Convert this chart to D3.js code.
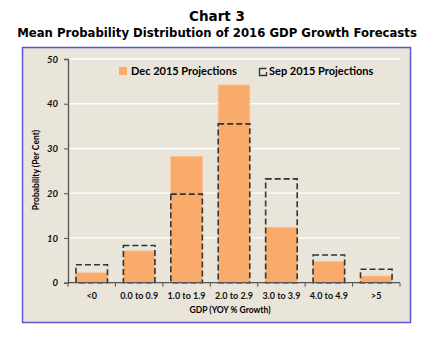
<!DOCTYPE html>
<html>
<head>
<meta charset="utf-8">
<script src="https://cdn.jsdelivr.net/npm/d3@7"></script>
<style>
  body { margin: 0; background: #fff; }
  text { font-family: Lato, "Open Sans", sans-serif; }
</style>
</head>
<body>
<script>
var categories = ["<0", "0.0 to 0.9", "1.0 to 1.9", "2.0 to 2.9", "3.0 to 3.9", "4.0 to 4.9", ">5"];
var dec2015 = [2.2, 7.1, 28.2, 44.2, 12.4, 4.7, 1.5];
var sep2015 = [4.0, 8.3, 19.8, 35.5, 23.2, 6.2, 3.0];
var yTicks = [0, 10, 20, 30, 40, 50];

var svgWidth = 435, svgHeight = 341;
var margin = {top: 59, left: 68, bottom: 58, right: 35};
var width = svgWidth - margin.left - margin.right,
    height = 282.7 - margin.top;

var svg = d3.select('body').append('svg')
  .attr('width', svgWidth)
  .attr('height', svgHeight);

// titles
svg.append('text')
  .attr('x', 217).attr('y', 21)
  .attr('text-anchor', 'middle')
  .style('font-family', '"DejaVu Sans", Verdana, sans-serif')
  .style('font-weight', 'bold').style('font-size', '13.5px')
  .text('Chart 3');
var sub = svg.append('text')
  .attr('x', 217).attr('y', 37)
  .attr('text-anchor', 'middle')
  .style('font-family', '"DejaVu Sans", Verdana, sans-serif')
  .style('font-weight', 'bold').style('font-size', '12px')
  .text('Mean Probability Distribution of 2016 GDP Growth Forecasts');
// size the subtitle to span ~400px
var w = sub.node().getComputedTextLength();
sub.style('font-size', (12 * 400 / w) + 'px');

// chart area frame
svg.append('rect')
  .attr('x', 22.5).attr('y', 47.5)
  .attr('width', 388).attr('height', 275)
  .attr('fill', '#e9e5da')
  .attr('stroke', '#5a5ad0')
  .attr('stroke-width', 1.5);

var g = svg.append('g')
  .attr('transform', `translate(${margin.left},${margin.top})`);

var xScale = d3.scaleBand().domain(categories).range([0, width]).paddingInner(0.335).paddingOuter(0.1675);
var yScale = d3.scaleLinear().domain([0, 50]).range([height, 0]);

// gridlines
g.selectAll('.grid').data(yTicks.slice(1)).enter()
  .append('line')
  .attr('class', 'grid')
  .attr('x1', 0).attr('x2', width)
  .attr('y1', d => yScale(d)).attr('y2', d => yScale(d))
  .attr('stroke', '#ffffff').attr('stroke-width', 1.3);

// Dec 2015 bars
g.selectAll('.dec').data(dec2015).enter()
  .append('rect')
  .attr('class', 'dec')
  .attr('x', (d, i) => xScale(categories[i]))
  .attr('y', d => yScale(d))
  .attr('width', xScale.bandwidth())
  .attr('height', d => height - yScale(d))
  .attr('fill', '#f9ab6b')
  .attr('stroke', '#fbc08f').attr('stroke-width', 0.8);

// Sep 2015 dashed outlines
g.selectAll('.sep').data(sep2015).enter()
  .append('rect')
  .attr('class', 'sep')
  .attr('x', (d, i) => xScale(categories[i]))
  .attr('y', d => yScale(d))
  .attr('width', xScale.bandwidth())
  .attr('height', d => height - yScale(d))
  .attr('fill', 'none')
  .attr('stroke', '#333333').attr('stroke-width', 1.6)
  .attr('stroke-dasharray', '6,3');

// y axis
var yAxis = d3.axisLeft(yScale).tickValues(yTicks).tickSize(4).tickPadding(6);
var ya = g.append('g').call(yAxis);
ya.select('.domain').attr('stroke', '#555').attr('stroke-width', 1.3);
ya.selectAll('.tick line').attr('stroke', '#555');
ya.selectAll('.tick text')
  .style('font-size', '9.5px').style('font-weight', 'bold').style('font-style', 'italic')
  .attr('fill', '#111');

// x axis: ticks at band boundaries
var xLine = g.append('g').attr('transform', `translate(0,${height})`);
xLine.append('line')
  .attr('x1', 0).attr('x2', width)
  .attr('stroke', '#555').attr('stroke-width', 1.3);
var step = xScale.step();
xLine.selectAll('.xt').data(d3.range(categories.length + 1)).enter()
  .append('line')
  .attr('x1', d => d * step).attr('x2', d => d * step)
  .attr('y1', 0).attr('y2', 4)
  .attr('stroke', '#555');
xLine.selectAll('.xl').data(categories).enter()
  .append('text')
  .attr('x', d => xScale(d) + xScale.bandwidth() / 2)
  .attr('y', 16)
  .attr('text-anchor', 'middle')
  .style('font-size', '9px').style('font-weight', 'bold')
  .attr('fill', '#111')
  .text(d => d);

// axis titles
svg.append('text')
  .attr('x', 230).attr('y', 313)
  .attr('text-anchor', 'middle')
  .style('font-size', '8.5px').style('font-weight', 'bold')
  .text('GDP (YOY % Growth)');
svg.append('text')
  .attr('transform', 'translate(39,170) rotate(-90)')
  .attr('text-anchor', 'middle')
  .style('font-size', '8.5px').style('font-weight', 'bold')
  .text('Probability (Per Cent)');

// legend
var leg = svg.append('g');
leg.append('rect')
  .attr('x', 119).attr('y', 67).attr('width', 8).attr('height', 8)
  .attr('fill', '#f9ab6b');
leg.append('text')
  .attr('x', 131).attr('y', 75)
  .style('font-size', '11px').style('font-weight', 'bold')
  .text('Dec 2015 Projections');
leg.append('path')
  .attr('d', 'M260,68.5 H266.5 M259.5,68 V75.5 H266.5 V72')
  .attr('fill', 'none').attr('stroke', '#333').attr('stroke-width', 1.3);
leg.append('text')
  .attr('x', 269).attr('y', 75)
  .style('font-size', '11px').style('font-weight', 'bold')
  .text('Sep 2015 Projections');
</script>
</body>
</html>
